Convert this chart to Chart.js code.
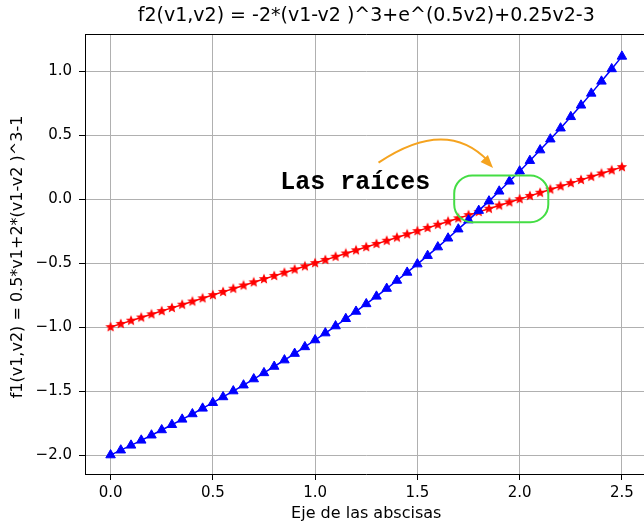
<!DOCTYPE html>
<html>
<head>
<meta charset="utf-8">
<script src="https://cdn.jsdelivr.net/npm/chart.js@4.4.1/dist/chart.umd.min.js"></script>
<style>
  html, body { margin: 0; padding: 0; background: #fff; overflow: hidden; }
  canvas { display: block; }
</style>
</head>
<body>
<canvas id="chart" width="654" height="528"></canvas>
<script>
  // values
  const xValues = [
    0.00, 0.05, 0.10, 0.15, 0.20, 0.25, 0.30, 0.35, 0.40, 0.45,
    0.50, 0.55, 0.60, 0.65, 0.70, 0.75, 0.80, 0.85, 0.90, 0.95,
    1.00, 1.05, 1.10, 1.15, 1.20, 1.25, 1.30, 1.35, 1.40, 1.45,
    1.50, 1.55, 1.60, 1.65, 1.70, 1.75, 1.80, 1.85, 1.90, 1.95,
    2.00, 2.05, 2.10, 2.15, 2.20, 2.25, 2.30, 2.35, 2.40, 2.45, 2.50,
  ];
  const redValues = [
    -1.000, -0.975, -0.950, -0.925, -0.900, -0.875, -0.850, -0.825, -0.800, -0.775,
    -0.750, -0.725, -0.700, -0.675, -0.650, -0.625, -0.600, -0.575, -0.550, -0.525,
    -0.500, -0.475, -0.450, -0.425, -0.400, -0.375, -0.350, -0.325, -0.300, -0.275,
    -0.250, -0.225, -0.200, -0.175, -0.150, -0.125, -0.100, -0.075, -0.050, -0.025,
    0.000, 0.025, 0.050, 0.075, 0.100, 0.125, 0.150, 0.175, 0.200, 0.225, 0.250,
  ];
  const blueValues = [
    -2.000, -1.962, -1.924, -1.885, -1.845, -1.804, -1.763, -1.721, -1.679, -1.635,
    -1.591, -1.546, -1.500, -1.454, -1.406, -1.358, -1.308, -1.258, -1.207, -1.155,
    -1.101, -1.047, -0.992, -0.935, -0.878, -0.819, -0.760, -0.699, -0.636, -0.573,
    -0.508, -0.442, -0.375, -0.306, -0.235, -0.164, -0.090, -0.016, 0.061, 0.139,
    0.218, 0.300, 0.383, 0.468, 0.554, 0.643, 0.733, 0.826, 0.920, 1.017, 1.115,
  ];
  const xTicks = [0, 0.5, 1.0, 1.5, 2.0, 2.5];
  const yTicks = [-2.0, -1.5, -1.0, -0.5, 0.0, 0.5, 1.0];

  const TITLE = "f2(v1,v2) = -2*(v1-v2 )^3+e^(0.5v2)+0.25v2-3";
  const X_LABEL = "Eje de las abscisas";
  const Y_LABEL = "f1(v1,v2) = 0.5*v1+2*(v1-v2 )^3-1";
  const NOTE = "Las raíces";
  const FONT = "'DejaVu Sans', sans-serif";

  function fmtTick(v) {
    return v.toFixed(1).replace("-", "\u2212");
  }

  // filled five-point star like matplotlib's "*"
  function starImage(size, color) {
    const c = document.createElement("canvas");
    c.width = c.height = size;
    const g = c.getContext("2d");
    const cx = size / 2, cy = size / 2, ro = size / 2 - 0.5, ri = ro * 0.45;
    g.beginPath();
    for (let i = 0; i < 10; i++) {
      const r = i % 2 ? ri : ro;
      const a = -Math.PI / 2 + i * Math.PI / 5;
      const px = cx + r * Math.cos(a), py = cy + r * Math.sin(a);
      i ? g.lineTo(px, py) : g.moveTo(px, py);
    }
    g.closePath();
    g.fillStyle = color;
    g.fill();
    return c;
  }

  const decor = {
    id: "decor",
    afterDraw(chart) {
      const { ctx, chartArea: a, scales: { x, y } } = chart;
      ctx.save();
      // top frame line (the right one falls off the canvas like the reference)
      ctx.strokeStyle = "#000";
      ctx.lineWidth = 1;
      ctx.beginPath();
      ctx.moveTo(a.left, a.top + 0.5);
      ctx.lineTo(a.right, a.top + 0.5);
      ctx.stroke();

      ctx.fillStyle = "#000";
      ctx.textAlign = "center";
      ctx.textBaseline = "middle";
      ctx.font = `19px ${FONT}`;
      ctx.fillText(TITLE, (a.left + a.right) / 2, 16);
      ctx.font = `16px ${FONT}`;
      ctx.fillText(X_LABEL, (a.left + a.right) / 2, 514);
      ctx.save();
      ctx.translate(18, 257);
      ctx.rotate(-Math.PI / 2);
      ctx.fillText(Y_LABEL, 0, 0);
      ctx.restore();

      // annotation text
      ctx.font = `bold 25px 'Liberation Mono', 'DejaVu Sans Mono', monospace`;
      ctx.textAlign = "left";
      ctx.textBaseline = "alphabetic";
      ctx.fillText(NOTE, x.getPixelForValue(0.83), y.getPixelForValue(0.08));

      // curved orange arrow
      const p0 = [x.getPixelForValue(1.31), y.getPixelForValue(0.285)];
      const p2 = [x.getPixelForValue(1.86), y.getPixelForValue(0.26)];
      const cp = [x.getPixelForValue(1.64), y.getPixelForValue(0.64)];
      ctx.strokeStyle = "#f5a31f";
      ctx.fillStyle = "#f5a31f";
      ctx.lineWidth = 2;
      ctx.beginPath();
      ctx.moveTo(p0[0], p0[1]);
      ctx.quadraticCurveTo(cp[0], cp[1], p2[0] - 3, p2[1] - 5);
      ctx.stroke();
      const ang = Math.atan2(p2[1] - cp[1], p2[0] - cp[0]);
      ctx.beginPath();
      ctx.moveTo(p2[0] + 3 * Math.cos(ang), p2[1] + 3 * Math.sin(ang));
      ctx.lineTo(p2[0] - 10 * Math.cos(ang) + 5 * Math.sin(ang), p2[1] - 10 * Math.sin(ang) - 5 * Math.cos(ang));
      ctx.lineTo(p2[0] - 10 * Math.cos(ang) - 5 * Math.sin(ang), p2[1] - 10 * Math.sin(ang) + 5 * Math.cos(ang));
      ctx.closePath();
      ctx.fill();

      // green rounded box around the crossing
      const bx0 = x.getPixelForValue(1.68), bx1 = x.getPixelForValue(2.14);
      const by0 = y.getPixelForValue(0.185), by1 = y.getPixelForValue(-0.18);
      ctx.strokeStyle = "#44dd44";
      ctx.lineWidth = 2;
      ctx.beginPath();
      ctx.roundRect(bx0, by0, bx1 - bx0, by1 - by0, 18);
      ctx.stroke();
      ctx.restore();
    },
  };

  const axisCommon = {
    type: "linear",
    grid: { color: "#b0b0b0", lineWidth: 1, tickLength: 6, tickColor: "#000" },
    border: { display: true, color: "#000", width: 1 },
    ticks: { color: "#000", font: { family: FONT, size: 15 }, callback: (v) => fmtTick(v) },
  };

  new Chart(document.getElementById("chart"), {
    type: "line",
    data: {
      datasets: [
        {
          label: "f1",
          data: xValues.map((v, i) => ({ x: v, y: redValues[i] })),
          borderColor: "#ff0000",
          backgroundColor: "#ff0000",
          borderWidth: 1.5,
          pointStyle: starImage(12, "#ff0000"),
          order: 2,
        },
        {
          label: "f2",
          data: xValues.map((v, i) => ({ x: v, y: blueValues[i] })),
          borderColor: "#0000ff",
          backgroundColor: "#0000ff",
          borderWidth: 1.5,
          pointStyle: "triangle",
          pointRadius: 5.5,
          pointBorderWidth: 1,
          order: 1,
        },
      ],
    },
    options: {
      responsive: false,
      animation: false,
      devicePixelRatio: 1,
      layout: { padding: { top: 34, left: 0, right: 5, bottom: 0 } },
      plugins: { legend: { display: false }, tooltip: { enabled: false }, title: { display: false } },
      elements: { line: { tension: 0 } },
      scales: {
        x: {
          ...axisCommon,
          min: -0.125,
          max: 2.625,
          ticks: { ...axisCommon.ticks, padding: 4, maxRotation: 0 },
          afterBuildTicks: (s) => { s.ticks = xTicks.map((v) => ({ value: v })); },
          afterFit: (s) => { s.height = 54; },
        },
        y: {
          ...axisCommon,
          min: -2.148,
          max: 1.29,
          ticks: { ...axisCommon.ticks, padding: 7 },
          afterBuildTicks: (s) => { s.ticks = yTicks.map((v) => ({ value: v })); },
          afterFit: (s) => { s.width = 85; },
        },
      },
    },
    plugins: [decor],
  });
</script>
</body>
</html>
